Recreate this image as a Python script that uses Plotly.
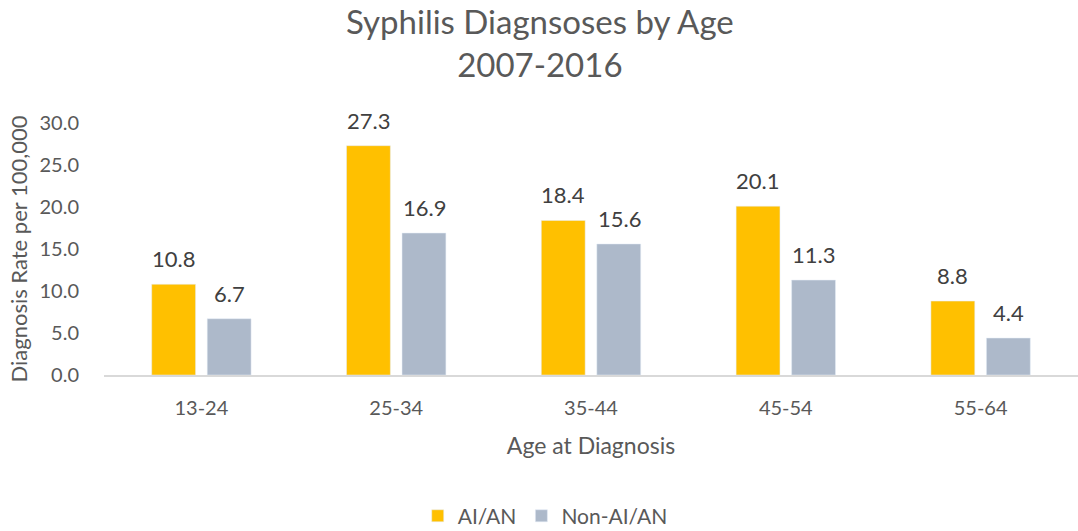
import plotly.graph_objects as go

# Dados
age_groups = ['13-24', '25-34', '35-44', '45-54', '55-64']
aian_rates = [10.8, 27.3, 18.4, 20.1, 8.8]
non_aian_rates = [6.7, 16.9, 15.6, 11.3, 4.4]

FONT = 'Lato, Calibri, sans-serif'
TEXT_COLOR = '#595959'
LABEL_COLOR = '#404040'

fig = go.Figure()

fig.add_trace(go.Bar(
    x=age_groups,
    y=aian_rates,
    name='AI/AN',
    marker_color='#FFC000'
))

fig.add_trace(go.Bar(
    x=age_groups,
    y=non_aian_rates,
    name='Non-AI/AN',
    marker_color='#ADB9CA'
))

# Rótulos de dados (acima das barras, com folga maior que a padrão)
for series, shift in ((aian_rates, -28), (non_aian_rates, 28)):
    for cat, val in zip(age_groups, series):
        fig.add_annotation(
            x=cat, y=val, xref='x', yref='y',
            text=f'{val:.1f}',
            xshift=shift, yshift=10,
            yanchor='bottom',
            showarrow=False,
            font=dict(size=22, color=LABEL_COLOR)
        )

# Título como anotação (duas linhas)
fig.add_annotation(
    text='Syphilis Diagnsoses by Age<br>2007-2016',
    xref='paper', yref='paper',
    x=0.448, y=1.32,
    xanchor='center', yanchor='middle',
    showarrow=False,
    font=dict(size=33, color=TEXT_COLOR)
)

fig.update_layout(
    width=1078,
    height=531,
    margin=dict(l=104, r=0, t=123, b=156, autoexpand=False),
    paper_bgcolor='white',
    plot_bgcolor='white',
    font=dict(family=FONT, color=TEXT_COLOR, size=20),
    barmode='group',
    bargap=0.43,
    bargroupgap=0.21,
    showlegend=True,
    legend=dict(
        orientation='h',
        x=0.453,
        xanchor='center',
        y=-0.56,
        yanchor='middle',
        font=dict(size=21, color=TEXT_COLOR),
        itemwidth=30
    ),
    xaxis=dict(
        title=dict(text='Age at Diagnosis', font=dict(size=23, color=TEXT_COLOR), standoff=20),
        showline=True,
        linecolor='#D9D9D9',
        linewidth=1.5,
        ticks='',
        ticklabelstandoff=14,
        tickfont=dict(size=20, color=TEXT_COLOR)
    ),
    yaxis=dict(
        title=dict(text='Diagnosis Rate per 100,000', font=dict(size=22, color=TEXT_COLOR), standoff=5),
        range=[0, 30],
        dtick=5,
        tickformat='.1f',
        showgrid=False,
        zeroline=False,
        showline=False,
        ticks='',
        ticklabelstandoff=24,
        tickfont=dict(size=20, color=TEXT_COLOR)
    )
)

# remove a margem padrão do body da página
fig.write_html(
    "out.html",
    config={'displayModeBar': False},
    post_script="document.body.style.margin='0';"
)
